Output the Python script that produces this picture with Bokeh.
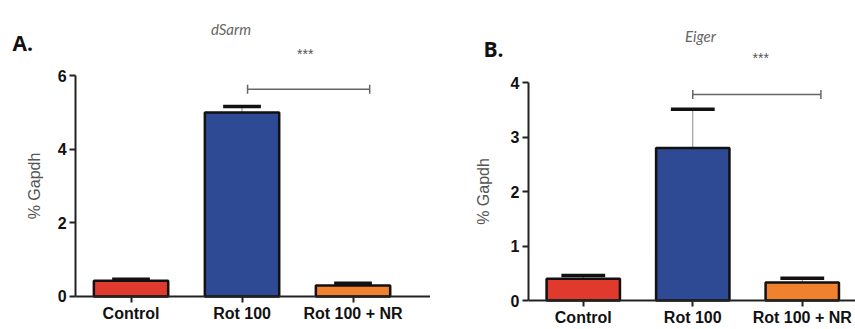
from math import pi
from bokeh.plotting import figure
from bokeh.layouts import row
from bokeh.models import Range1d, FixedTicker, Label, ColumnDataSource
from bokeh.embed import file_html
from bokeh.resources import INLINE

# ---- data ----
categories = ["Control", "Rot 100", "Rot 100 + NR"]
bar_colors = ["#e0392d", "#2f4a95", "#ef812f"]

dsarm_mean = [0.43, 5.00, 0.30]
dsarm_sem = [0.04, 0.16, 0.06]
dsarm_ticks = [0, 2, 4, 6]

eiger_mean = [0.40, 2.80, 0.33]
eiger_sem = [0.06, 0.71, 0.08]
eiger_ticks = [0, 1, 2, 3, 4]

sig_pair = [1, 2]
sig_text = "***"


def panel(letter, gene, means, sems, ticks, xr, yr, width, label_standoff,
          x_standoff, cap_w, sig_y, sig_x, star_x, star_y, title_x, title_y,
          letter_x, letter_y):
    xs = list(range(len(categories)))
    p = figure(width=width, height=329, output_backend="svg", toolbar_location=None,
               x_range=Range1d(*xr), y_range=Range1d(*yr),
               min_border_left=0, min_border_right=0,
               min_border_top=0, min_border_bottom=0)
    p.outline_line_color = None
    p.xgrid.visible = False
    p.ygrid.visible = False
    p.background_fill_color = "white"
    p.border_fill_color = "white"

    src = ColumnDataSource(dict(
        x=xs, top=means, cap=[m + s for m, s in zip(means, sems)],
        x0=[x - cap_w / 2 for x in xs], x1=[x + cap_w / 2 for x in xs],
        color=bar_colors))
    p.segment(x0="x", y0="top", x1="x", y1="cap", source=src,
              line_color="#8a8a8a", line_width=1)
    p.vbar(x="x", top="top", width=0.67, bottom=0, source=src,
           fill_color="color", line_color="#111111", line_width=2.5)
    p.segment(x0="x0", y0="cap", x1="x1", y1="cap", source=src,
              line_color="#111111", line_width=3.5)

    # significance bracket
    a, b = sig_pair
    bx0 = xs[a] + sig_x[0]
    bx1 = xs[b] + sig_x[1]
    p.segment(x0=[bx0], y0=[sig_y], x1=[bx1], y1=[sig_y],
              line_color="#666666", line_width=1.5)
    p.scatter(x=[bx0, bx1], y=[sig_y, sig_y], marker="dash", angle=pi / 2,
              size=9, line_color="#666666", line_width=1.5)
    p.add_layout(Label(x=star_x, y=star_y, text=sig_text, text_align="center",
                       text_baseline="middle", text_font_size="14px",
                       text_color="#555555", text_font="Liberation Sans"))

    p.add_layout(Label(x=title_x, y=title_y, text=gene, text_align="center",
                       text_baseline="middle", text_font_size="15px",
                       text_font_style="italic", text_color="#666666",
                       text_font="Lato"))
    p.add_layout(Label(x=letter_x, y=letter_y, text=letter, text_align="left",
                       text_baseline="middle", text_font_size="21px",
                       text_font_style="bold", text_color="#111111",
                       text_font="Open Sans"))

    for ax in (p.xaxis[0], p.yaxis[0]):
        ax.axis_line_color = "#222222"
        ax.axis_line_width = 2
        ax.major_tick_line_color = "#222222"
        ax.major_tick_line_width = 2
        ax.major_tick_in = 0
        ax.major_tick_out = 6
        ax.minor_tick_line_color = None
        ax.major_label_text_font = "Liberation Sans"
        ax.major_label_text_font_style = "bold"
        ax.major_label_text_font_size = "16px"
        ax.major_label_text_color = "#111111"

    p.xaxis.fixed_location = 0
    p.xaxis.bounds = (-0.5, xr[1])
    p.xaxis.ticker = FixedTicker(ticks=xs)
    p.xaxis.major_label_overrides = {i: c for i, c in enumerate(categories)}
    p.xaxis.major_label_standoff = x_standoff

    p.yaxis.fixed_location = -0.5
    p.yaxis.ticker = FixedTicker(ticks=ticks)
    p.yaxis.bounds = (ticks[0], ticks[-1])
    p.yaxis.major_label_standoff = 3
    p.yaxis.axis_label = "% Gapdh"
    p.yaxis.axis_label_text_font = "Liberation Sans"
    p.yaxis.axis_label_text_font_style = "normal"
    p.yaxis.axis_label_text_font_size = "16px"
    p.yaxis.axis_label_text_color = "#555555"
    p.yaxis.axis_label_standoff = label_standoff
    return p


pA = panel("A.", "dSarm", dsarm_mean, dsarm_sem, dsarm_ticks,
           xr=(-1.176, 2.698), yr=(-0.897, 8.043), width=430,
           label_standoff=12, x_standoff=3,
           cap_w=0.34, sig_y=5.63, sig_x=(0.05, 0.15), star_x=1.57, star_y=6.6,
           title_x=0.90, title_y=7.28, letter_x=-1.068, letter_y=6.875)

pB = panel("B.", "Eiger", eiger_mean, eiger_sem, eiger_ticks,
           xr=(-1.395, 2.486), yr=(-0.532, 5.505), width=425,
           label_standoff=16, x_standoff=2,
           cap_w=0.40, sig_y=3.78, sig_x=(0.0, 0.17), star_x=1.62, star_y=4.45,
           title_x=1.07, title_y=4.86, letter_x=-0.911, letter_y=4.62)

layout = row(pA, pB)
open("out.html", "w").write(file_html(layout, INLINE))
